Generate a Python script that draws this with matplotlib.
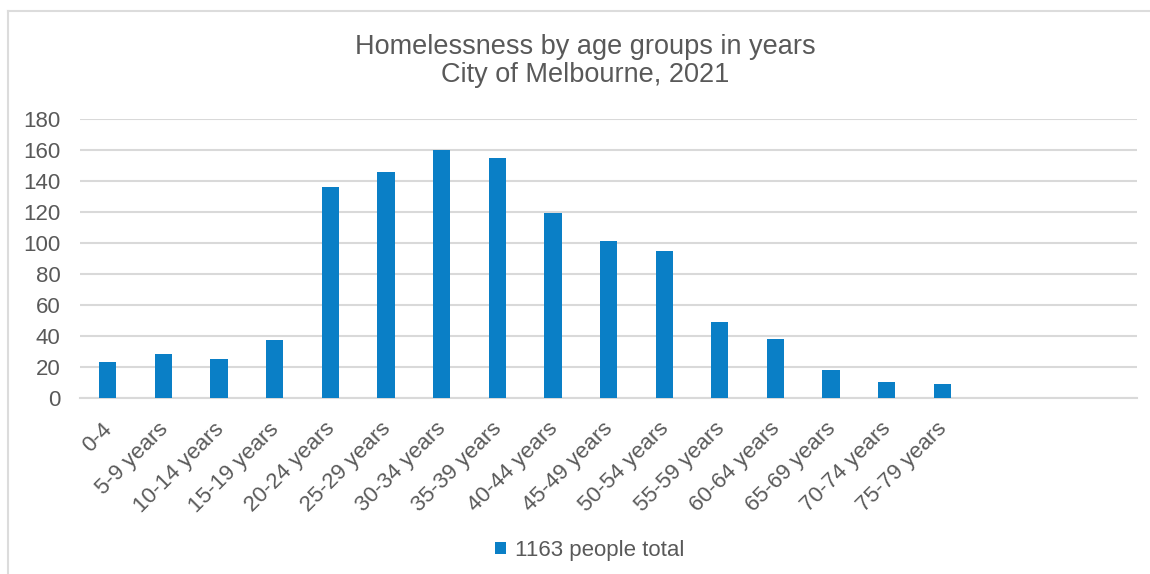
import numpy as np
import matplotlib
matplotlib.use("Agg")
import matplotlib.pyplot as plt
import matplotlib.transforms as mtransforms
from matplotlib.lines import Line2D

plt.rcParams["font.family"] = ["Liberation Sans", "DejaVu Sans"]

# Age groups (last three slots have no label and no bar in the source chart)
age_groups = ["0-4", "5-9 years", "10-14 years", "15-19 years", "20-24 years",
              "25-29 years", "30-34 years", "35-39 years", "40-44 years",
              "45-49 years", "50-54 years", "55-59 years", "60-64 years",
              "65-69 years", "70-74 years", "75-79 years", "", "", ""]
people = [23, 28, 25, 37, 136, 146, 160, 155, 119, 101, 95, 49, 38, 18, 10, 9,
          0, 0, 0]
series_name = "1163 people total"

text_grey = "#595959"
grid_grey = "#d9d9d9"
bar_blue = "#0a7fc6"

fig = plt.figure(figsize=(11.5, 5.74), dpi=100)
ax = fig.add_axes([0.0696, 0.3071, 0.9191, 0.4856])

x = np.arange(len(age_groups))
ax.bar(x, people, width=0.31, color=bar_blue, label=series_name, zorder=3)

ax.set_xlim(-0.5, len(age_groups) - 0.5)
ax.set_ylim(0, 180)
ax.set_yticks(np.arange(0, 181, 20))
ax.set_xticks(x)
ax.set_xticklabels(age_groups, rotation=45, ha="right", rotation_mode="anchor")

ax.grid(axis="y", color=grid_grey, linewidth=1.5, zorder=0)
for side in ["top", "right", "left"]:
    ax.spines[side].set_visible(False)
ax.spines["bottom"].set_color(grid_grey)
ax.spines["bottom"].set_linewidth(1.5)
ax.tick_params(axis="both", length=0, labelcolor=text_grey)
ax.tick_params(axis="y", pad=14, labelsize=16)
ax.tick_params(axis="x", pad=15, labelsize=16)

# nudge slanted labels so their ends sit right under the bars
shift = mtransforms.ScaledTranslation(-6 / 100, 0, fig.dpi_scale_trans)
for lbl in ax.get_xticklabels():
    lbl.set_transform(lbl.get_transform() + shift)

fig.suptitle("Homelessness by age groups in years\nCity of Melbourne, 2021",
             x=0.509, y=0.94, fontsize=19.5, color=text_grey, linespacing=1.1)

fig.legend(loc="lower center", bbox_to_anchor=(0.513, -0.012), frameon=False,
           fontsize=16, labelcolor=text_grey, handlelength=0.5,
           handleheight=0.5, handletextpad=0.4)

# light frame around the chart area (left and top edges)
fig.add_artist(Line2D([8 / 1150, 8 / 1150], [0, 1 - 11 / 574],
                      color="#dcdcdc", linewidth=1.5))
fig.add_artist(Line2D([8 / 1150, 1], [1 - 11 / 574, 1 - 11 / 574],
                      color="#dcdcdc", linewidth=1.5))

fig.savefig("out.png", dpi=100)
